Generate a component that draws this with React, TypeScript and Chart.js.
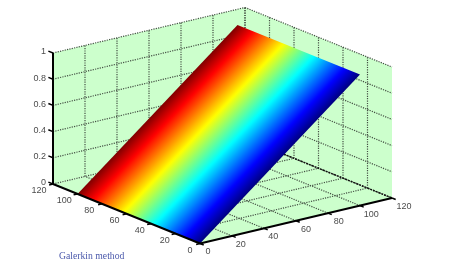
import React, { useEffect, useRef } from "react";
import { Chart, registerables } from "chart.js";

Chart.register(...registerables);

// axis ticks
const groundTicks = [0, 20, 40, 60, 80, 100, 120];
const heightTicks = [0, 0.2, 0.4, 0.6, 0.8, 1];
const groundLabels = ["0", "20", "40", "60", "80", "100", "120"];
const heightLabels = ["0", "0.2", "0.4", "0.6", "0.8", "1"];
const caption = "Galerkin method";

// surface mesh
const meshA = [
  0, 1, 2, 3, 4, 5, 6, 7, 8, 9, 10, 11, 12, 13, 14, 15, 16, 17, 18, 19, 20, 21, 22, 23, 24, 25,
  26, 27, 28, 29, 30, 31, 32, 33, 34, 35, 36, 37, 38, 39, 40, 41, 42, 43, 44, 45, 46, 47, 48, 49,
  50, 51, 52, 53, 54, 55, 56, 57, 58, 59, 60, 61, 62, 63, 64, 65, 66, 67, 68, 69, 70, 71, 72, 73,
  74, 75, 76, 77, 78, 79, 80, 81, 82, 83, 84, 85, 86, 87, 88, 89, 90, 91, 92, 93, 94, 95, 96, 97,
  98, 99, 100,
];
const meshB = [0, 100];
const meshZ = [0, 1];

const AMAX = 120;
const BMAX = 120;

// view projection
const project = (a: number, b: number, z: number) => ({
  x: 200 - (147 * a) / AMAX + (192 * b) / BMAX,
  y: 243.5 - (59.5 * a) / AMAX - (45.5 * b) / BMAX - 131 * z,
});

const clamp = (v: number) => Math.max(0, Math.min(1, v));
const jet = (t: number) => {
  const r = clamp(1.5 - Math.abs(4 * t - 3));
  const g = clamp(1.5 - Math.abs(4 * t - 2));
  const b = clamp(1.5 - Math.abs(4 * t - 1));
  return `rgb(${Math.round(r * 255)},${Math.round(g * 255)},${Math.round(b * 255)})`;
};

const WALL = "#ccffcc";
const GRID = "#445044";

const shape = (pts: { x: number; y: number }[], color: any) => ({
  data: [...pts, pts[0]],
  showLine: true,
  fill: "shape",
  backgroundColor: color,
  borderColor: color,
  borderWidth: 0,
  pointRadius: 0,
  tension: 0,
});
const line = (
  pts: { x: number; y: number }[],
  color: string,
  width: number,
  dash: number[] = []
) => ({
  data: pts,
  showLine: true,
  fill: false,
  borderColor: color,
  borderWidth: width,
  borderDash: dash,
  pointRadius: 0,
  tension: 0,
});

function surfaceGradient(ctx: CanvasRenderingContext2D) {
  const a0 = meshA[0];
  const a1 = meshA[meshA.length - 1];
  const p0 = project(a0, meshB[0], meshZ[0]);
  const p1 = project(a1, meshB[0], meshZ[0]);
  const far = project(a0, meshB[1], meshZ[1]);
  const dx = far.x - p0.x;
  const dy = far.y - p0.y;
  const len = Math.hypot(dx, dy);
  const nx = -dy / len;
  const ny = dx / len;
  const k = (p1.x - p0.x) * nx + (p1.y - p0.y) * ny;
  const g = ctx.createLinearGradient(p0.x, p0.y, p0.x + nx * k, p0.y + ny * k);
  meshA.forEach((a) => g.addColorStop((a - a0) / (a1 - a0), jet(a / 100)));
  return g;
}

function buildDatasets(ctx: CanvasRenderingContext2D) {
  const ds: any[] = [];
  // walls and floor
  ds.push(shape([project(0, 0, 0), project(AMAX, 0, 0), project(AMAX, BMAX, 0), project(0, BMAX, 0)], WALL));
  ds.push(shape([project(AMAX, 0, 0), project(AMAX, BMAX, 0), project(AMAX, BMAX, 1), project(AMAX, 0, 1)], WALL));
  ds.push(shape([project(AMAX, BMAX, 0), project(0, BMAX, 0), project(0, BMAX, 1), project(AMAX, BMAX, 1)], WALL));
  const dots = [1.2, 1.2];
  // grid
  groundTicks.slice(1).forEach((t) => {
    ds.push(line([project(t, 0, 0), project(t, BMAX, 0)], GRID, 1.2, dots));
    ds.push(line([project(AMAX, t, 0), project(AMAX, t, 1)], GRID, 1.2, dots));
    ds.push(line([project(t, BMAX, 0), project(t, BMAX, 1)], GRID, 1.2, dots));
    ds.push(line([project(0, t, 0), project(AMAX, t, 0)], GRID, 1.2, dots));
  });
  heightTicks.slice(1).forEach((h) => {
    ds.push(line([project(AMAX, 0, h), project(AMAX, BMAX, h)], GRID, 1.2, dots));
    ds.push(line([project(AMAX, BMAX, h), project(0, BMAX, h)], GRID, 1.2, dots));
  });
  // heavy back floor edge
  ds.push(line([project(AMAX, BMAX, 0), project(0, BMAX, 0)], "#111", 1.5, [2, 1]));
  // surface
  ds.push(
    shape(
      [
        project(meshA[0], meshB[0], meshZ[0]),
        project(meshA[meshA.length - 1], meshB[0], meshZ[0]),
        project(meshA[meshA.length - 1], meshB[1], meshZ[1]),
        project(meshA[0], meshB[1], meshZ[1]),
      ],
      surfaceGradient(ctx)
    )
  );
  // axes
  ds.push(line([project(AMAX, 0, 0), project(AMAX, 0, 1)], "#000", 2));
  ds.push(line([project(AMAX, 0, 0), project(0, 0, 0)], "#000", 2));
  ds.push(line([project(0, 0, 0), project(0, BMAX, 0)], "#000", 2));
  // ticks
  const aLen = Math.hypot(147, 59.5);
  const bLen = Math.hypot(192, 45.5);
  heightTicks.forEach((h) => {
    const p = project(AMAX, 0, h);
    ds.push(line([p, { x: p.x - (5 * 147) / aLen, y: p.y - (5 * 59.5) / aLen }], "#000", 1.5));
  });
  groundTicks.forEach((t) => {
    const p = project(t, 0, 0);
    ds.push(line([p, { x: p.x - (4 * 192) / bLen, y: p.y + (4 * 45.5) / bLen }], "#000", 1.5));
    const q = project(0, t, 0);
    ds.push(line([q, { x: q.x + (4 * 147) / aLen, y: q.y + (4 * 59.5) / aLen }], "#000", 1.5));
  });
  ds.forEach((d, i) => {
    d.order = ds.length - i;
    d.clip = false;
  });
  return ds;
}

const textPlugin = {
  id: "axisText",
  afterDraw(chart: any) {
    const { ctx, scales } = chart;
    const put = (s: string, x: number, y: number, align: CanvasTextAlign, font: string, color: string) => {
      ctx.font = font;
      ctx.fillStyle = color;
      ctx.textAlign = align;
      ctx.textBaseline = "middle";
      ctx.fillText(s, scales.x.getPixelForValue(x), scales.y.getPixelForValue(y));
    };
    ctx.save();
    const tickFont = '9px "Liberation Sans"';
    const tickColor = "#4c4c4c";
    heightTicks.forEach((h, i) => {
      const p = project(AMAX, 0, h);
      put(heightLabels[i], p.x - 7, p.y - 1, "right", tickFont, tickColor);
    });
    groundTicks.forEach((t, i) => {
      const p = project(t, 0, 0);
      put(groundLabels[i], p.x - 10 - (t / 120) * 4, p.y + 7, "center", tickFont, tickColor);
      const q = project(0, t, 0);
      put(groundLabels[i], q.x + 8 + (t / 120) * 4, q.y + 8.5, "center", tickFont, tickColor);
    });
    put(caption, 59, 256.5, "left", '9.7px "Liberation Serif"', "#4a58ab");
    ctx.restore();
  },
};

export default function App() {
  const ref = useRef<HTMLCanvasElement>(null);
  useEffect(() => {
    const canvas = ref.current!;
    const chart = new Chart(canvas, {
      type: "scatter",
      data: { datasets: buildDatasets(canvas.getContext("2d")!) },
      options: {
        responsive: false,
        animation: false,
        layout: { padding: 0 },
        plugins: { legend: { display: false }, tooltip: { enabled: false }, title: { display: false } },
        scales: {
          x: { type: "linear", min: 0, max: 450, display: false },
          y: { type: "linear", min: 0, max: 274, reverse: true, display: false },
        },
      },
      plugins: [textPlugin],
    } as any);
    return () => chart.destroy();
  }, []);
  return (
    <div style={{ position: "fixed", left: 0, top: 0, width: 450, height: 274, background: "#fff" }}>
      <canvas ref={ref} width={450} height={274} style={{ display: "block", filter: "blur(0.35px)" }} />
    </div>
  );
}
